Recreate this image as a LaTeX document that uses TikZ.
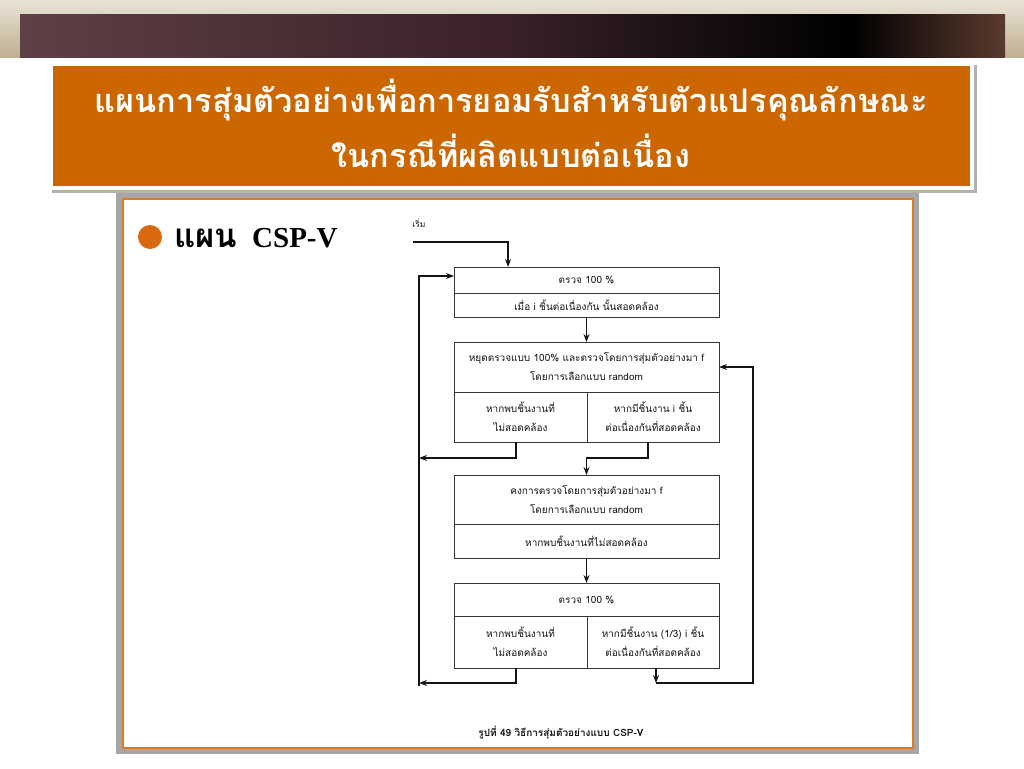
\documentclass[tikz,border=0pt]{standalone}
\usepackage{fontspec}
\newfontfamily\thai[Script=Thai]{Loma}
\newfontfamily\tnr{Liberation Serif}
\usetikzlibrary{arrows.meta,calc}
\definecolor{titleorange}{HTML}{CC6600}
\definecolor{frameorange}{HTML}{E07A1E}
\definecolor{bulletorange}{HTML}{D8690F}
\definecolor{tanlight}{HTML}{E9E3D6}
\definecolor{tandark}{HTML}{BFAE90}
\definecolor{bandA}{HTML}{5E4046}
\definecolor{bandB}{HTML}{3A2228}
\definecolor{bandC}{HTML}{5A3A2E}
\definecolor{ink}{HTML}{141414}
\tikzset{
  cell/.style={draw=ink!85, line width=0.9pt, inner sep=0pt, outer sep=0pt,
    align=center, text=ink, font=\thai\fontsize{10}{19}\selectfont},
  conn/.style={line width=1.6pt, draw=ink},
  arr/.style={conn, -{Stealth[length=8pt,width=6pt]}},
}
\begin{document}
\begin{tikzpicture}[x=1pt,y=-1pt]
\useasboundingbox (0,0) rectangle (1024,768);
\fill[white] (0,0) rectangle (1024,768);
% top band
\shade[top color=tanlight, bottom color=tandark] (0,0) rectangle (1024,58);
\shade[left color=bandA, right color=bandB] (20,15) rectangle (501,58);
\shade[left color=bandB, right color=black] (500,15) rectangle (851,58);
\shade[left color=black, right color=bandC] (850,15) rectangle (1005,58);
% content frame
\fill[gray!70] (116,192) rectangle (919,754);
\fill[white, draw=frameorange, line width=2.5pt] (123,199) rectangle (913,748);
% title box
\fill[gray!60] (52,65) rectangle (977,193);
\fill[white] (49,62) rectangle (974,190);
\fill[titleorange] (53,66) rectangle (970,186);
\node[text=white, font=\thai\bfseries\fontsize{32.5}{55}\selectfont, align=center] (title) at (511,123)
  {แผนการสุ่มตัวอย่างเพื่อการยอมรับสำหรับตัวแปรคุณลักษณะ\\ในกรณีที่ผลิตแบบต่อเนื่อง};
% bullet
\fill[bulletorange] (150,237) circle (12);
\node[anchor=base west, inner sep=0pt, font=\thai\bfseries\fontsize{33}{34}\selectfont] (bulth) at (174,247) {แผน};
\node[anchor=base west, inner sep=0pt, font=\tnr\bfseries\fontsize{29}{30}\selectfont] (bulen) at (252,247) {CSP-V};
% flowchart
\node[font=\thai\fontsize{8.5}{10}\selectfont, text=ink] (start) at (419,223) {เริ่ม};
\node[cell, minimum width=265pt, minimum height=26pt] (b1a) at (586.5,280) {ตรวจ 100 \%};
\node[cell, minimum width=265pt, minimum height=24pt] (b1b) at (586.5,305) {เมื่อ i ชิ้นต่อเนื่องกัน นั้นสอดคล้อง};
\node[cell, minimum width=265pt, minimum height=50pt] (b2a) at (586.5,367) {หยุดตรวจแบบ 100\% และตรวจโดยการสุ่มตัวอย่างมา f\\โดยการเลือกแบบ random};
\node[cell, minimum width=133pt, minimum height=50pt] (b2l) at (520.5,417) {หากพบชิ้นงานที่\\ไม่สอดคล้อง};
\node[cell, minimum width=132pt, minimum height=50pt] (b2r) at (653,417) {หากมีชิ้นงาน i ชิ้น\\ต่อเนื่องกันที่สอดคล้อง};
\node[cell, minimum width=265pt, minimum height=49pt] (b3a) at (586.5,499.5) {คงการตรวจโดยการสุ่มตัวอย่างมา f\\โดยการเลือกแบบ random};
\node[cell, minimum width=265pt, minimum height=34pt] (b3b) at (586.5,541) {หากพบชิ้นงานที่ไม่สอดคล้อง};
\node[cell, minimum width=265pt, minimum height=33pt] (b4a) at (586.5,599.5) {ตรวจ 100 \%};
\node[cell, minimum width=133pt, minimum height=52pt] (b4l) at (520.5,642) {หากพบชิ้นงานที่\\ไม่สอดคล้อง};
\node[cell, minimum width=132pt, minimum height=52pt] (b4r) at (653,642) {หากมีชิ้นงาน (1/3) i ชิ้น\\ต่อเนื่องกันที่สอดคล้อง};
\node[font=\thai\bfseries\fontsize{10}{12}\selectfont, text=ink] (cap) at (561,733) {รูปที่ 49 วิธีการสุ่มตัวอย่างแบบ CSP-V};
% connector coordinates
\coordinate (s0) at (413,242);
\coordinate (Ltop) at (419,276);
\coordinate (Lbot) at (419,686);
\coordinate (L1) at (419,458);
\coordinate (L2) at (419,683);
\coordinate (R0) at (656,683);
\coordinate (R) at (753,683);
% connectors
\draw[arr] (s0) -| ($(b1a.north west)!0.204!(b1a.north east)$);
\draw[arr] (b1b.south) -- (b2a.north);
\draw[arr] ([xshift=-4.5pt]b2l.south) |- (L1);
\draw[arr] ([xshift=-5pt]b2r.south) -- ++(0,16) -| (b3a.north);
\draw[arr] (b3b.south) -- (b4a.north);
\draw[arr] ([xshift=-4.5pt]b4l.south) |- (L2);
\draw[arr] (Lbot) -- (Ltop) -- (Ltop -| b1a.west);
\draw[arr] ([xshift=3pt]b4r.south) -- (R0);
\draw[arr] (R0) -- (R) |- (b2a.east);
\end{tikzpicture}
\end{document}
